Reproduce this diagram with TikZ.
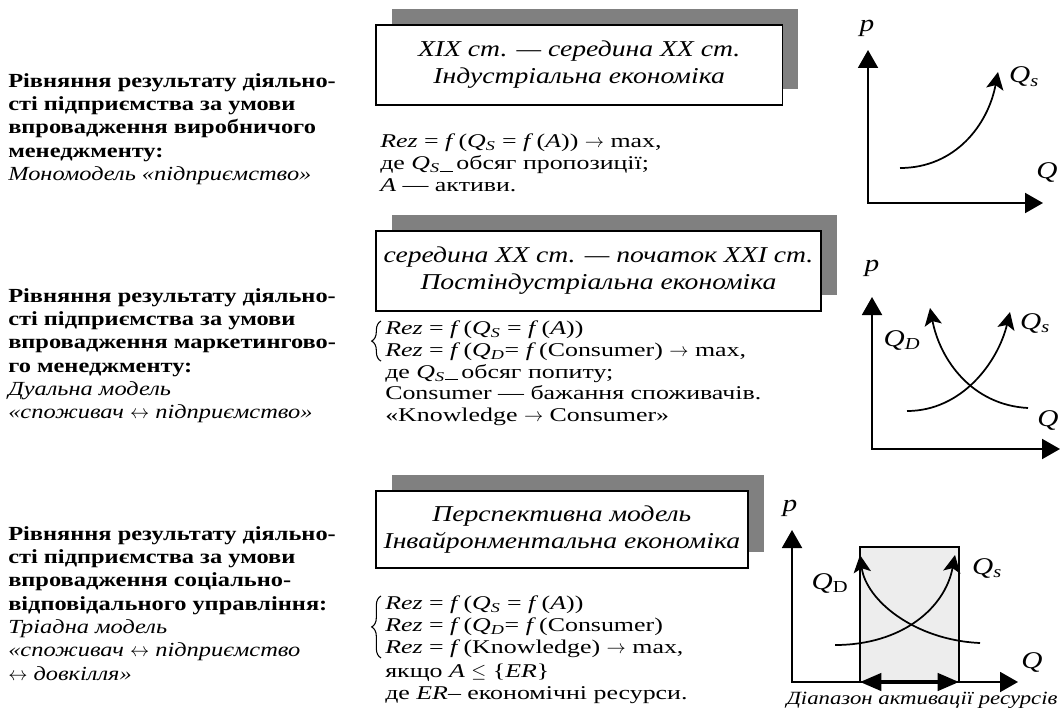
\documentclass[tikz,border=0pt]{standalone}
\usepackage{fontspec}
\setmainfont{Liberation Serif}[FakeStretch=1.22]
\newfontfamily\eqfont{Liberation Serif}[FakeStretch=1.33]
\usepackage{tikz}
\usetikzlibrary{arrows.meta, shadows, decorations.pathreplacing}

\begin{document}
\begin{tikzpicture}
    [
      x=0.75pt, y=-0.75pt,
      lefttext/.style={anchor=north west, align=left, inner sep=0pt,
        font=\fontsize{15}{17.5}\selectfont},
      eqtext/.style={anchor=north west, align=left, inner sep=0pt,
        font=\eqfont\fontsize{14.6}{16.3}\selectfont},
      erabox/.style={anchor=north west, draw, line width=1.2pt, fill=white,
        align=center, inner sep=0pt, minimum height=60pt,
        font=\itshape\fontsize{17}{20}\selectfont,
        drop shadow={shadow xshift=12pt, shadow yshift=12pt,
          fill=black!50, opacity=1}},
      sysbrace/.style={decorate, decoration={brace, amplitude=7pt}, line width=0.8pt},
      pqaxis/.style={line width=1.5pt,
        {Triangle[length=13.5pt,width=15pt]}-{Triangle[length=13.5pt,width=15pt]}},
      qcurve/.style={line width=1.3pt, -{Stealth[length=13pt,width=13pt,inset=3pt]}},
      spanarrow/.style={line width=2.5pt,
        {Triangle[length=16pt,width=13pt]}-{Triangle[length=16pt,width=13pt]}},
      glabel/.style={inner sep=0pt, font=\itshape\fontsize{18}{18}\selectfont},
      captext/.style={inner sep=0pt, font=\itshape\fontsize{14}{14}\selectfont}
    ]
    \useasboundingbox (0,0) rectangle (1062,720);
    % left column
    \node [lefttext] (res1) at (8,73)
      {\textbf{Рівняння результату діяльно-}\\
       \textbf{сті підприємства за умови}\\
       \textbf{впровадження виробничого}\\
       \textbf{менеджменту:}\\
       \textit{Мономодель «підприємство»}};
    \node [lefttext] (res2) at (8,288)
      {\textbf{Рівняння результату діяльно-}\\
       \textbf{сті підприємства за умови}\\
       \textbf{впровадження маркетингово-}\\
       \textbf{го менеджменту:}\\
       \textit{Дуальна модель}\\
       \textit{«споживач $\leftrightarrow$ підприємство»}};
    \node [lefttext] (res3) at (8,526)
      {\textbf{Рівняння результату діяльно-}\\
       \textbf{сті підприємства за умови}\\
       \textbf{впровадження соціально-}\\
       \textbf{відповідального управління:}\\
       \textit{Тріадна модель}\\
       \textit{«споживач $\leftrightarrow$ підприємство}\\
       \textit{$\leftrightarrow$ довкілля»}};
    % era boxes
    \node [erabox, minimum width=305pt] (era1) at (375,24)
      {XIX ст. — середина XX ст.\\Індустріальна економіка};
    \node [erabox, minimum width=334pt] (era2) at (375,230)
      {середина XX ст. — початок XXI ст.\\Постіндустріальна економіка};
    \node [erabox, minimum width=279pt, minimum height=58pt] (era3) at (375,490)
      {Перспективна модель\\Інвайронментальна економіка};
    % equations
    \node [eqtext] (eq1) at (380,134)
      {\textit{Rez} = \textit{f}\,(\textit{Q}\textsubscript{\textit{S}} = \textit{f}\,(\textit{A})) $\rightarrow$ max,\\
       де \textit{Q}\textsubscript{\textit{S}}\rule[-1.5pt]{10pt}{0.8pt}\,обсяг пропозиції;\\
       \textit{A} — активи.};
    \node [eqtext] (sys2) at (385,321)
      {\textit{Rez} = \textit{f}\,(\textit{Q}\textsubscript{\textit{S}} = \textit{f}\,(\textit{A}))\\
       \textit{Rez} = \textit{f}\,(\textit{Q}\textsubscript{\textit{D}}= \textit{f}\,(Consumer) $\rightarrow$ max,};
    \node [eqtext] (eq2) at (385,364)
      {де \textit{Q}\textsubscript{\textit{S}}\rule[-1.5pt]{10pt}{0.8pt}\,обсяг попиту;\\
       Consumer — бажання споживачів.\\
       «Knowledge $\rightarrow$ Consumer»};
    \node [eqtext] (sys3) at (385,596)
      {\textit{Rez} = \textit{f}\,(\textit{Q}\textsubscript{\textit{S}} = \textit{f}\,(\textit{A}))\\
       \textit{Rez} = \textit{f}\,(\textit{Q}\textsubscript{\textit{D}}= \textit{f}\,(Consumer)\\
       \textit{Rez} = \textit{f}\,(Knowledge) $\rightarrow$ max,};
    \node [eqtext] (eq3) at (385,664)
      {якщо \textit{A} $\leq$ \{\textit{ER}\}\\
       де \textit{ER}– економічні ресурси.};
    % braces
    \draw [sysbrace] ([xshift=-3pt]sys2.south west) -- ([xshift=-3pt]sys2.north west);
    \draw [sysbrace] ([xshift=-3pt]sys3.south west) -- ([xshift=-3pt]sys3.north west);
    % range of resources
    \draw [line width=1.2pt, fill=black!7] (860,547) rectangle (959,682);
    % axes
    \foreach \ox/\oy/\ptop/\qend in {868/203/50/1043, 872/449/297/1060, 792/682/530/1018} {
        \draw [pqaxis] (\ox,\ptop) -- (\ox,\oy) -- (\qend,\oy);
    }
    \draw [spanarrow] (860,682) -- (959,682);
    % curves
    \draw [qcurve] (900,168) .. controls (955,168) and (988,125) .. (998,72);
    \draw [qcurve] (907,411) .. controls (962,411) and (998,362) .. (1010,312);
    \draw [qcurve] (1028,408) .. controls (972,405) and (940,360) .. (930,308);
    \draw [qcurve] (835,645) .. controls (902,645) and (945,608) .. (955,555);
    \draw [qcurve] (980,643) .. controls (914,640) and (866,600) .. (860,555);
    % labels
    \node [glabel] (p1) at (867,28) {p};
    \node [glabel] (q1) at (1047,173) {Q};
    \node [glabel] (qs1) at (1024,77) {Q\textsubscript{s}};
    \node [glabel] (p2) at (872,268) {p};
    \node [glabel] (q2) at (1048,420) {Q};
    \node [glabel] (qs2) at (1035,323) {Q\textsubscript{s}};
    \node [glabel] (qd2) at (902,340) {Q\textsubscript{D}};
    \node [glabel] (p3) at (790,508) {p};
    \node [glabel] (q3) at (1032,662) {Q};
    \node [glabel] (qs3) at (987,568) {Q\textsubscript{s}};
    \node [glabel] (qd3) at (830,583) {Q\textsubscript{\upshape D}};
    \node [captext] (cap) at (922,700) {Діапазон активації ресурсів};
\end{tikzpicture}
\end{document}
